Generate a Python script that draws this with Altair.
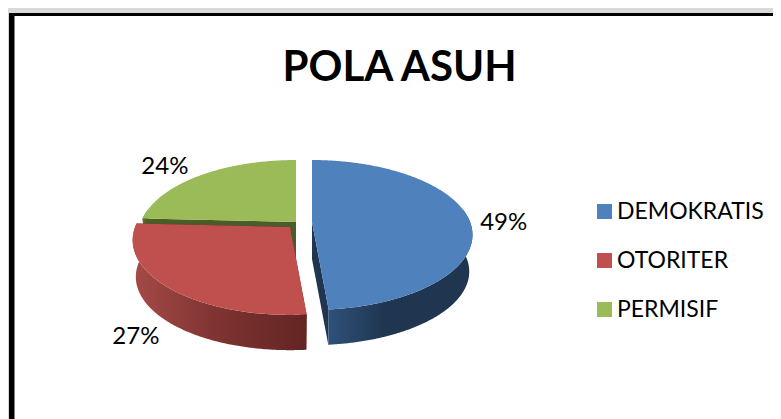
import math
import altair as alt
import pandas as pd

TITLE = "POLA ASUH"
CATEGORIES = ["DEMOKRATIS", "OTORITER", "PERMISIF"]
SHARES = [48.6, 27.2, 24.2]
COLORS = ["#4f81bd", "#c0504d", "#9bbb59"]

W, H = 765, 411
CENTERS = {"DEMOKRATIS": (312, 222), "OTORITER": (290, 227), "PERMISIF": (296, 222)}
R, K, P = 156.5, 72.7, 0.173
SKEW = 0.01
DEPTH, BOTTOM_SCALE = 37, 0.98
NUDGE = {"DEMOKRATIS": (35, 4), "OTORITER": (-31, 50), "PERMISIF": (-36, -8)}
WALL = {
    "DEMOKRATIS": (["#2f5179", "#1f3550", "#1f3550"], "#1f3550"),
    "OTORITER": (["#a54a47", "#7d3331", "#632523"], "#632523"),
    "PERMISIF": (["#5d7430", "#4b5d26", "#4b5d26"], "#4b5d26"),
}


def project(c, deg, bottom=False):
    t = math.radians(deg)
    u, v = math.sin(t), -math.cos(t)
    s = 1 / (1 - P * v)
    f = BOTTOM_SCALE if bottom else 1
    return (
        c[0] + R * (1 + SKEW * u) * u * s * f,
        c[1] + K * v * s * f + (DEPTH if bottom else 0),
    )


def apex(c, bottom=False):
    return (c[0], c[1] + (DEPTH if bottom else 0))


def frame(points):
    return pd.DataFrame(
        [{"x": p[0], "y": p[1], "i": i} for i, p in enumerate(points)]
    )


def arc(c, a, b, bottom=False):
    n = max(2, int(abs(b - a) * 2))
    return [project(c, a + (b - a) * k / n, bottom) for k in range(n + 1)]


X = alt.X("x:Q", scale=alt.Scale(domain=[8, 8 + W], nice=False, zero=False), axis=None)
Y = alt.Y("y:Q", scale=alt.Scale(domain=[8 + H, 8], nice=False, zero=False), axis=None)
fill_scale = alt.Scale(domain=CATEGORIES, range=COLORS)


def polygon(points, fill):
    return (
        alt.Chart(frame(points))
        .mark_line(fill=fill, strokeWidth=0, interpolate="linear")
        .encode(x=X, y=Y, order="i:Q")
    )


layers = [
    alt.Chart(pd.DataFrame({"a": [0]}))
    .mark_rect(color="#000000")
    .encode(x=alt.value(1), x2=alt.value(W), y=alt.value(5), y2=alt.value(H)),
    alt.Chart(pd.DataFrame({"a": [0]}))
    .mark_rect(color="#ffffff")
    .encode(x=alt.value(6.5), x2=alt.value(W), y=alt.value(8), y2=alt.value(H)),
]

starts = {}
acc = 0.0
for name, share in zip(CATEGORIES, SHARES):
    starts[name] = (acc * 3.6, (acc + share) * 3.6)
    acc += share

for name in reversed(CATEGORIES):
    a, b = starts[name]
    c = CENTERS[name]
    stops, flat = WALL[name]
    # cut faces
    layers.append(polygon([apex(c), project(c, a), project(c, a, True), apex(c, True)], flat))
    layers.append(polygon([apex(c), project(c, b), project(c, b, True), apex(c, True)], flat))
    # rim wall, only the part that faces the viewer
    fa, fb = max(a, 80), min(b, 280)
    if fb > fa:
        gradient = alt.Gradient(
            gradient="linear",
            x1=0, x2=1, y1=0, y2=0,
            stops=[
                alt.GradientStop(offset=k / (len(stops) - 1), color=col)
                for k, col in enumerate(stops)
            ],
        )
        if name == "DEMOKRATIS":
            gradient = alt.Gradient(
                gradient="linear",
                x1=1, x2=0, y1=0, y2=0,
                stops=[
                    alt.GradientStop(offset=0, color="#1f3550"),
                    alt.GradientStop(offset=0.6, color="#1f3550"),
                    alt.GradientStop(offset=1, color="#2f5179"),
                ],
            )
        layers.append(
            polygon(arc(c, fa, fb) + list(reversed(arc(c, fa, fb, True))), gradient)
        )
    # top face
    top = frame([apex(c)] + arc(c, a, b))
    top["slice"] = name
    layers.append(
        alt.Chart(top)
        .mark_line(strokeWidth=0)
        .encode(
            x=X,
            y=Y,
            order="i:Q",
            fill=alt.Fill(
                "slice:N",
                scale=fill_scale,
                legend=alt.Legend(
                    title=None,
                    orient="none",
                    legendX=585,
                    legendY=192,
                    symbolType="square",
                    symbolSize=225,
                    symbolStrokeWidth=0,
                    symbolOpacity=1,
                    labelFont="Lato",
                    labelFontSize=23,
                    labelColor="#000000",
                    labelOffset=1,
                    rowPadding=25,
                    labelLimit=200,
                ),
            ),
        )
    )

label_rows = []
for name, share in zip(CATEGORIES, SHARES):
    a, b = starts[name]
    px, py = project(CENTERS[name], (a + b) / 2)
    dx, dy = NUDGE[name]
    label_rows.append({"x": px + dx, "y": py + dy, "share": share / 100})

layers.append(
    alt.Chart(pd.DataFrame(label_rows))
    .mark_text(font="Lato", fontSize=24, color="#000000", align="center", baseline="middle")
    .encode(x=X, y=Y, text=alt.Text("share:Q", format=".0%"))
)

chart = (
    alt.layer(*layers)
    .properties(
        width=W,
        height=H,
        padding=0,
        autosize=alt.AutoSizeParams(type="none"),
        background="#d9d9d9",
        title=alt.TitleParams(
            TITLE,
            font="Lato",
            fontSize=42,
            fontWeight="bold",
            color="#000000",
            anchor="middle",
            dx=9,
            dy=86,
        ),
    )
    .configure_view(stroke=None)
)

chart.save("out.html", embed_options={"renderer": "svg", "actions": False})
